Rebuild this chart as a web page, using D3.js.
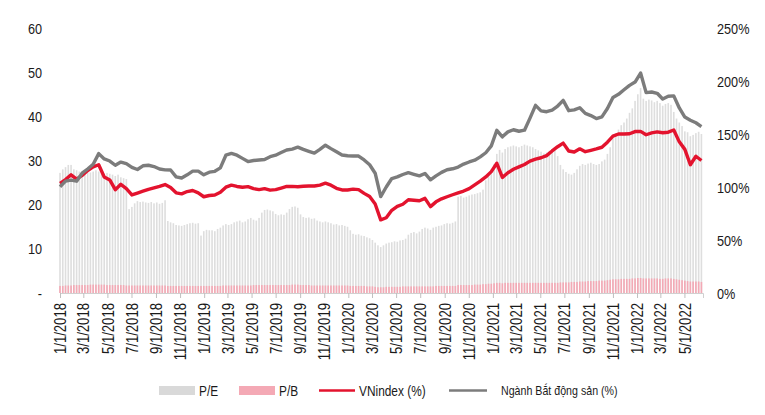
<!DOCTYPE html>
<html>
<head>
<meta charset="utf-8">
<script src="https://cdn.jsdelivr.net/npm/d3@7"></script>
<style>
  html, body { margin: 0; padding: 0; background: #fff; }
  svg text { font-family: 'Liberation Sans', Arial, sans-serif; fill: #1a1a1a; }
</style>
</head>
<body>
<svg id="chart" width="765" height="415"></svg>
<script>
// ---- DATA ----
// Weekly bars (P/E, P/B) starting 2018-01-01, one value per week
const barStart = "2018-01-01";
const peValues = [
  27.2, 28.0, 28.5, 29.0, 29.0,
  28.0, 27.8, 27.5, 27.2, 27.4, 27.6, 27.3, 27.5, 27.8, 27.5, 27.3, 27.0, 27.2, 27.0, 26.8, 26.5, 26.8, 26.2, 26.0, 25.8,
  19.0, 19.5, 20.3, 20.8, 20.6, 20.7, 20.5, 20.4, 20.6, 20.3, 20.5, 20.2, 20.4, 21.0,
  16.3, 16.0, 15.8, 15.4, 15.3, 15.2, 15.4, 15.6, 15.8, 15.9, 15.7, 15.8,
  13.0, 14.0, 14.3, 14.2, 14.2, 14.0, 14.5, 14.8, 15.3, 15.6, 15.4, 15.6, 16.0, 16.2, 16.4, 16.0, 16.2, 16.7, 17.0,
  16.6, 16.4, 17.0, 18.2, 18.8, 18.9, 18.7, 18.5, 17.9, 17.6,
  17.8, 17.7, 18.2, 19.0, 19.5, 19.6, 19.3, 17.8, 17.2, 17.0,
  17.1, 16.8, 16.9, 16.4, 16.2, 16.0, 16.2, 16.0, 15.8, 15.5,
  15.6, 15.3, 15.4, 15.2, 15.0, 14.2, 13.4, 13.2, 13.3, 13.0,
  12.9, 12.6, 12.4, 12.0, 11.4, 10.8, 10.4, 10.8, 11.2, 11.4,
  11.5, 11.7, 11.6, 11.9, 12.0, 12.3, 13.2, 13.6, 13.8, 13.5,
  13.9, 14.5, 14.8, 14.6, 14.3, 14.8, 15.0, 15.2, 15.3, 15.6,
  15.8, 15.7, 15.9, 16.2, 21.8, 22.0, 21.6, 21.8, 22.1, 22.3,
  22.4, 22.6, 22.8, 23.4, 25.5, 27.0, 28.0, 29.2, 31.5, 32.4,
  31.8, 32.6, 33.0, 33.2, 33.4, 33.2, 33.0, 33.3, 33.6, 33.4,
  33.2, 33.0, 32.6, 32.3, 32.0, 31.6, 31.8, 32.2, 32.6, 32.9,
  31.0, 29.0, 28.0, 27.4, 27.0, 26.8, 27.2, 28.0, 28.8, 29.2,
  29.0, 29.3, 29.5, 29.2, 29.0, 29.2, 29.8, 30.2, 31.5, 33.0,
  35.0, 36.2, 37.0, 38.0, 38.6, 39.5, 40.8, 41.8, 43.5, 45.0,
  46.4, 44.0, 43.5, 43.8, 43.6, 43.2, 43.5, 43.0, 42.4, 42.8,
  43.0, 42.6, 41.0, 39.5, 38.6, 37.8, 36.6, 36.4, 35.5, 35.8,
  36.2, 36.5, 36.0
];
const pbValues = [
  1.6,1.6,1.7,1.7,1.7,1.8,1.8,1.8,1.8,1.8,
  1.8,1.9,1.9,1.9,1.9,1.9,1.9,1.8,1.8,1.8,
  1.8,1.8,1.8,1.8,1.7,1.7,1.7,1.7,1.7,1.7,
  1.7,1.7,1.7,1.7,1.7,1.7,1.7,1.7,1.7,1.6,
  1.6,1.6,1.6,1.6,1.6,1.6,1.6,1.6,1.6,1.6,
  1.6,1.6,1.6,1.6,1.6,1.6,1.6,1.6,1.6,1.7,
  1.7,1.7,1.7,1.7,1.7,1.7,1.7,1.7,1.7,1.7,
  1.8,1.8,1.8,1.8,1.8,1.8,1.8,1.8,1.8,1.8,
  1.8,1.8,1.8,1.8,1.9,1.9,1.9,1.8,1.8,1.8,
  1.8,1.7,1.7,1.7,1.7,1.7,1.7,1.7,1.7,1.7,
  1.7,1.7,1.7,1.7,1.7,1.6,1.6,1.6,1.6,1.6,
  1.6,1.5,1.5,1.5,1.4,1.3,1.3,1.3,1.4,1.4,
  1.4,1.4,1.4,1.4,1.5,1.5,1.5,1.5,1.5,1.5,
  1.5,1.5,1.5,1.5,1.5,1.5,1.6,1.6,1.6,1.6,
  1.6,1.6,1.6,1.6,1.8,1.8,1.8,1.8,1.8,1.8,
  1.9,1.9,1.9,2.0,2.0,2.1,2.1,2.2,2.3,2.3,
  2.2,2.3,2.3,2.3,2.3,2.3,2.3,2.3,2.3,2.3,
  2.3,2.3,2.3,2.3,2.3,2.3,2.3,2.3,2.3,2.3,
  2.3,2.4,2.4,2.4,2.4,2.5,2.5,2.5,2.6,2.6,
  2.6,2.7,2.7,2.7,2.7,2.8,2.8,2.8,2.9,3.0,
  3.1,3.1,3.1,3.2,3.2,3.2,3.2,3.3,3.3,3.4,
  3.4,3.3,3.3,3.3,3.3,3.3,3.3,3.2,3.2,3.3,
  3.3,3.3,3.2,3.1,3.0,2.9,2.8,2.7,2.6,2.6,
  2.6,2.6,2.5
];
// Bi-weekly lines (% vs base) starting 2018-01-01
const lineStart = "2018-01-01";
const vnindexPct = [
  103.5, 107, 111.5, 107.5, 111, 115.5, 119, 121, 109.5, 106.7,
  97.5, 102.5, 98.5, 92.5, 94.3, 96, 97.8, 99.2, 100.6, 102.3,
  99.5, 94.5, 93.5, 95.7, 96.7, 94.5, 90.8, 92, 92.5, 95,
  99.8, 101.8, 100.5, 99.8, 100.3, 98.5, 97.5, 98.5, 97, 97.5,
  99, 100.5, 100.6, 100.3, 100.7, 100.9, 100.9, 101.8, 103.6, 101.7,
  98.8, 97.2, 97.2, 98, 97.5, 94, 91, 84, 69, 71,
  78, 81.7, 83.7, 88, 87.5, 87, 89.3, 81.5, 86, 88.8,
  90.8, 92.7, 94.5, 96.2, 98.5, 102, 105.5, 109.5, 114.5, 122.4,
  109, 113.5, 116.7, 119, 121.2, 124.4, 126.3, 127.6, 129.6, 134,
  138, 141.4, 134, 133, 136, 133.3, 134.6, 135.9, 137.5, 142.3,
  148, 150, 150, 150.2, 152.3, 152.5, 149.3, 151, 152, 151.2,
  151.7, 153.8, 142.6, 135.5, 121, 129, 125
];
const realEstatePct = [
  100.3, 105.5, 106.5, 105.5, 113, 117, 121.5, 131.5, 126.5, 124.5,
  120.5, 123.5, 122, 118.5, 116.5, 120, 120.5, 119.3, 117, 116.2,
  116, 109.5, 108.5, 111.5, 115, 115, 111.5, 114, 114.8, 118,
  130, 131.7, 130, 127, 124, 125, 125.5, 126, 128.6, 130,
  132.5, 134.9, 135.8, 137.6, 135.5, 133.7, 132, 135.5, 139.4, 136.2,
  133.2, 130.2, 129.5, 129.2, 129.2, 125.5, 121, 113, 91, 100,
  108, 109.5, 111.8, 113.6, 112, 110.5, 112.8, 106.8, 110.5, 113.8,
  116.3, 117.2, 118.8, 121.6, 123.6, 125.3, 128.4, 132.3, 138.8, 153.5,
  147.3, 152, 154, 152.6, 153.6, 165, 177, 171.8, 171, 172.6,
  176.4, 181.7, 172, 172.7, 174.8, 169.5, 167.4, 164.6, 166.2, 174,
  184.5, 187.4, 191.7, 195.9, 199, 207.5, 189, 189.6, 188.4, 183,
  185.6, 186, 174.6, 166, 163, 160.6, 157
];
const leftTicks = [0, 10, 20, 30, 40, 50, 60];
const rightTicks = [0, 50, 100, 150, 200, 250];
const seriesNames = ["P/E", "P/B", "VNindex (%)", "Ngành Bắt động sản (%)"];

// ---- CHART ----
const NARROW = 0.82; // emulate a narrow sans face
const svg = d3.select("#chart");
const DAY = 86400000;
const t0 = new Date(barStart + "T00:00:00Z");
const l0 = new Date(lineStart + "T00:00:00Z");
const x = d3.scaleUtc()
  .domain([t0, new Date("2022-06-17T00:00:00Z")])
  .range([60, 703]);
const yL = d3.scaleLinear().domain([0, 60]).range([293, 28]);
const yR = d3.scaleLinear().domain([0, 250]).range([293, 28]);

function narrowText(g, px, py, str, size, anchor) {
  return g.append("text")
    .attr("transform", `translate(${px},${py}) scale(${NARROW},1)`)
    .attr("text-anchor", anchor || "start")
    .style("font-size", size + "px")
    .text(str);
}

const bars = peValues.map((v, i) => ({ date: new Date(+t0 + i * 7 * DAY), pe: v, pb: pbValues[i] }));
const barW = 1.6;

svg.append("g").selectAll("rect").data(bars).join("rect")
  .attr("x", d => x(d.date) - barW / 2)
  .attr("width", barW)
  .attr("y", d => yL(d.pe))
  .attr("height", d => yL(0) - yL(d.pe))
  .attr("fill", "#dedede");

svg.append("g").selectAll("rect").data(bars).join("rect")
  .attr("x", d => x(d.date) - barW / 2)
  .attr("width", barW)
  .attr("y", d => yL(d.pb))
  .attr("height", d => yL(0) - yL(d.pb))
  .attr("fill", "#f4a9b5");

// x axis
const xTicks = d3.utcMonth.every(2).range(new Date("2018-01-01T00:00:00Z"), new Date("2022-05-02T00:00:00Z"));
const fmt = d => (d.getUTCMonth() + 1) + "/" + d.getUTCDate() + "/" + d.getUTCFullYear();
const xAxis = d3.axisBottom(x).tickValues(xTicks).tickFormat(fmt).tickSizeOuter(0).tickSize(5);
const gx = svg.append("g").attr("transform", "translate(0,293)").call(xAxis);
gx.select(".domain").attr("stroke", "#d0d0d0");
gx.selectAll(".tick line").attr("stroke", "#bfbfbf");
gx.selectAll(".tick text")
  .attr("transform", `rotate(-90) scale(${NARROW},1)`)
  .attr("x", -10 / NARROW).attr("y", 0).attr("dy", "0.35em")
  .attr("text-anchor", "end")
  .style("font-size", "16px")
  .style("font-family", "'Liberation Sans', Arial, sans-serif")
  .attr("fill", "#1a1a1a");

// left axis labels
const gl = svg.append("g");
leftTicks.forEach(v => narrowText(gl, 42, yL(v) + 5.5, v === 0 ? "-" : String(v), 15.5, "end"));

// right axis labels
const gr = svg.append("g");
rightTicks.forEach(v => narrowText(gr, 717, yR(v) + 5.5, v + "%", 15.5, "start"));

// lines
const vnData = vnindexPct.map((v, j) => ({ date: new Date(+l0 + j * 14 * DAY), v }));
const reData = realEstatePct.map((v, j) => ({ date: new Date(+l0 + j * 14 * DAY), v }));
const line = d3.line().x(d => x(d.date)).y(d => yR(d.v));
svg.append("path").datum(vnData).attr("d", line)
  .attr("fill", "none").attr("stroke", "#e3132e").attr("stroke-width", 3.4).attr("stroke-linejoin", "round");
svg.append("path").datum(reData).attr("d", line)
  .attr("fill", "none").attr("stroke", "#7c7c7c").attr("stroke-width", 3.4).attr("stroke-linejoin", "round");

// legend
const lg = svg.append("g");
lg.append("rect").attr("x", 159).attr("y", 386).attr("width", 36).attr("height", 9).attr("fill", "#d9d9d9");
narrowText(lg, 199, 395.5, seriesNames[0], 14.5);
lg.append("rect").attr("x", 239).attr("y", 386).attr("width", 36).attr("height", 9).attr("fill", "#f4a9b5");
narrowText(lg, 279, 395.5, seriesNames[1], 14.5);
lg.append("line").attr("x1", 319).attr("x2", 355).attr("y1", 390.5).attr("y2", 390.5).attr("stroke", "#e3132e").attr("stroke-width", 2.5);
narrowText(lg, 359, 395.5, seriesNames[2], 14.5);
lg.append("line").attr("x1", 449).attr("x2", 487).attr("y1", 390.5).attr("y2", 390.5).attr("stroke", "#7c7c7c").attr("stroke-width", 2.5);
narrowText(lg, 501, 395, seriesNames[3], 13);
</script>
</body>
</html>
